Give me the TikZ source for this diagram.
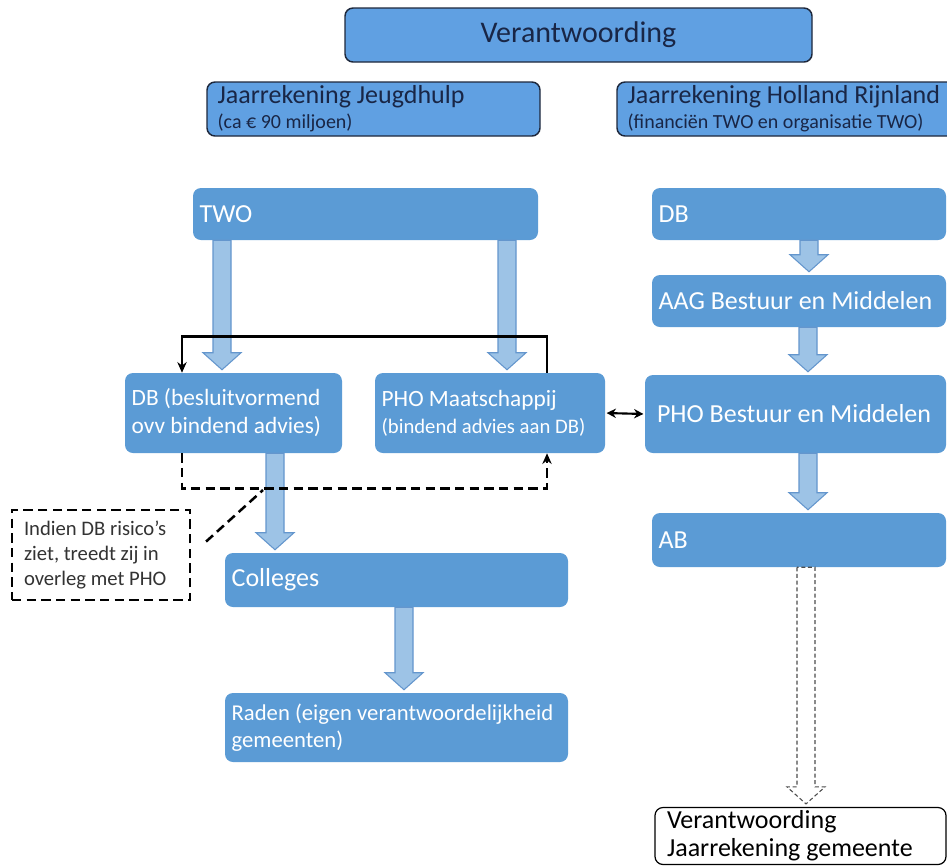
\documentclass[tikz,border=0pt]{standalone}
\usepackage{fontspec}
\setmainfont{Carlito}
\usepackage{tikz}
\usetikzlibrary{arrows.meta,%
                calc}

\definecolor{flowblue}{RGB}{91,155,213}
\definecolor{headblue}{RGB}{96,160,226}
\definecolor{headline}{RGB}{30,40,60}
\definecolor{headtext}{RGB}{25,38,70}
\definecolor{arrowfill}{RGB}{157,195,230}
\definecolor{arrowline}{RGB}{100,150,205}

\newcommand{\bigtxt}{\fontsize{19.5}{21}\selectfont}
\newcommand{\midtxt}{\fontsize{17.5}{21}\selectfont}
\newcommand{\subtxt}{\fontsize{15}{18}\selectfont}

\newcommand{\blockarrow}[4][barrow]{%
	\path (#2.south -| #4,0) coordinate (bs) (#3.north -| #4,0) coordinate (be);
	\draw [#1] ($(bs)+(-9,0)$) -- ($(be)+(-9,-20)$) -- ($(be)+(-19,-20)$) -- ($(be)+(0,-3)$)
		-- ($(be)+(19,-20)$) -- ($(be)+(9,-20)$) -- ($(bs)+(9,0)$) -- cycle;
}

\begin{document}
\begin{tikzpicture}[
x=0.75pt, y=-0.75pt,
boxsize/.style 2 args={minimum width=#1*0.75pt, minimum height=#2*0.75pt, text width=#1*0.75pt-10pt},
fbox/.style={rounded corners=6pt, fill=flowblue, text=white, align=flush left, inner xsep=5pt, inner ysep=0pt, font=\bigtxt},
hbox/.style={rounded corners=6pt, fill=headblue, draw=headline, line width=1.1pt, text=headtext, align=flush left, inner xsep=5pt, inner ysep=0pt, font=\bigtxt},
barrow/.style={fill=arrowfill, draw=arrowline, line width=0.8pt},
hollow/.style={fill=white, draw=gray!60!black, densely dashed, line width=0.8pt},
link/.style={line width=1.9pt, -{Stealth[length=8pt,width=7pt]}},
dashlink/.style={link, dash pattern=on 7pt off 4pt}]
\clip (0,0) rectangle (947,865);
\fill [white] (0,0) rectangle (947,865);

\node [hbox, boxsize={467}{54}, align=flush center, font=\fontsize{22.5}{24}\selectfont] (title) at (578.5,35) {Verantwoording};
\node [hbox, boxsize={333}{54}] (hjeugd) at (373.5,109) {\hspace{3pt}Jaarrekening Jeugdhulp\\[-2pt]{\subtxt\hspace{3pt}(ca € 90 miljoen)}};
\node [hbox, boxsize={358}{54}] (hrijn) at (796,109) {\hspace{3pt}Jaarrekening Holland Rijnland\\[-2pt]{\subtxt\hspace{3pt}(financiën TWO en organisatie TWO)}};

\node [fbox, boxsize={345}{52}] (two) at (365.5,214) {TWO};
\node [fbox, boxsize={217}{80}, font=\midtxt] (dbj) at (233.5,413) {DB (besluitvormend\\ovv bindend advies)};
\node [fbox, boxsize={230}{80}, font=\midtxt] (phom) at (490,413) {PHO Maatschappij\\[-1pt]{\fontsize{15.5}{18}\selectfont (bindend advies aan DB)}};
\node [fbox, boxsize={343}{54}] (colleges) at (396.5,580) {Colleges};
\node [fbox, boxsize={343}{69}, font=\fontsize{17}{20}\selectfont] (raden) at (396.5,727.5) {Raden (eigen verantwoordelijkheid\\gemeenten)};
\node [draw, dash pattern=on 7pt off 4pt, line width=1.9pt, fill=white, text=black!80, align=flush left,
	minimum width=178*0.75pt, minimum height=90*0.75pt, text width=178*0.75pt-18pt, inner xsep=9pt,
	font=\fontsize{15.5}{18.75}\selectfont] (note) at (101,555) {Indien DB risico’s\\ziet, treedt zij in\\overleg met PHO};

\node [fbox, boxsize={294}{52}] (dbr) at (799,214) {DB};
\node [fbox, boxsize={294}{52}] (aag) at (799,301) {AAG Bestuur en Middelen};
\node [fbox, boxsize={301}{78}] (phob) at (795.5,414) {\hspace{4pt}PHO Bestuur en Middelen};
\node [fbox, boxsize={294}{54}] (ab) at (799,540) {AB};
\node [rounded corners=6pt, draw, line width=0.9pt, fill=white, align=flush left, inner xsep=5pt, inner ysep=0pt,
	boxsize={291}{57}, font=\bigtxt] (final) at (800.5,836) {\hspace{4pt}Verantwoording\\\hspace{4pt}Jaarrekening gemeente};

\blockarrow{two}{dbj}{222}
\blockarrow{two}{phom}{507}
\blockarrow{dbj}{colleges}{275}
\blockarrow{colleges}{raden}{404}
\blockarrow{dbr}{aag}{809}
\blockarrow{aag}{phob}{808}
\blockarrow{phob}{ab}{808}
\blockarrow[hollow]{ab}{final}{806}

\draw [link] (phom.north -| 547,0) -- ++(0,-36) -| (dbj.north -| 182,0);
\draw [dashlink] (dbj.south -| 182,0) -- ++(0,35) -| (phom.south -| 547,0);
\coordinate (risk) at (263,490);
\draw [line width=1.9pt, dash pattern=on 7pt off 4pt, shorten <=15pt] (note.east) -- (risk);
\draw [line width=1.6pt, {Stealth[length=7pt,width=7pt]}-{Stealth[length=7pt,width=7pt]}, shorten <=1pt, shorten >=1pt] (phom.east) -- (phob.west);
\end{tikzpicture}
\end{document}
